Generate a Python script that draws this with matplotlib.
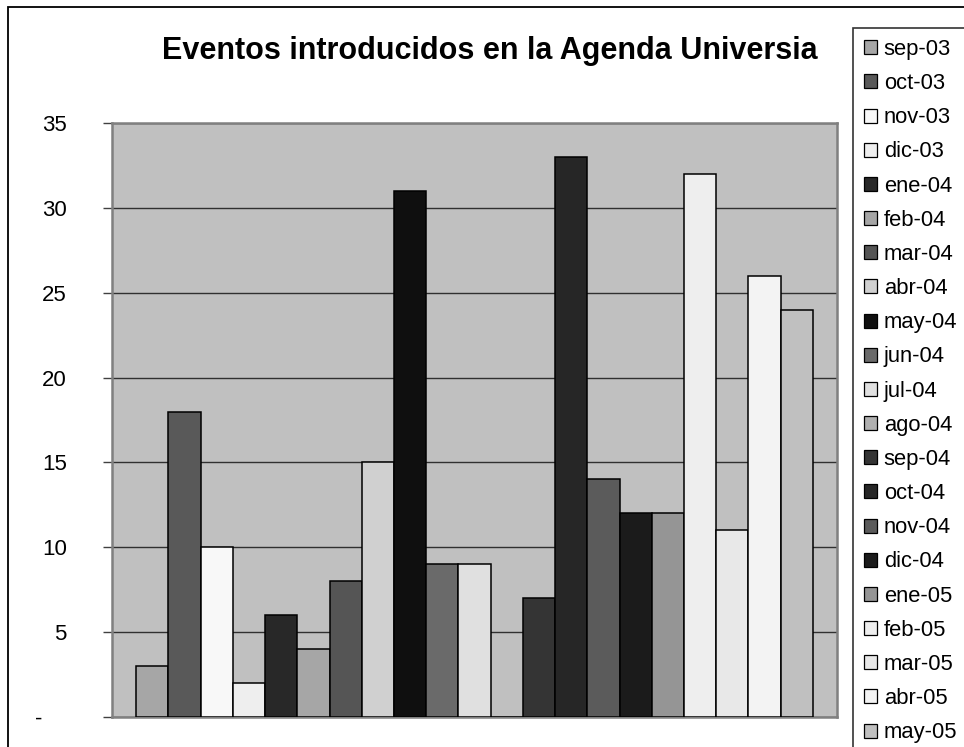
import matplotlib
matplotlib.use("Agg")
import matplotlib.pyplot as plt
from matplotlib.patches import Rectangle, Patch
from matplotlib.ticker import FuncFormatter

plt.rcParams['font.family'] = ['Liberation Sans', 'DejaVu Sans']

# months (one series each in the original chart)
months = ['sep-03', 'oct-03', 'nov-03', 'dic-03', 'ene-04', 'feb-04', 'mar-04',
          'abr-04', 'may-04', 'jun-04', 'jul-04', 'ago-04', 'sep-04', 'oct-04',
          'nov-04', 'dic-04', 'ene-05', 'feb-05', 'mar-05', 'abr-05', 'may-05']
eventos = [3, 18, 10, 2, 6, 4, 8, 15, 31, 9, 9, 0, 7, 33, 14, 12, 12, 32, 11, 26, 24]
grises = ['#a6a6a6', '#595959', '#f8f8f8', '#eeeeee', '#282828', '#a6a6a6', '#555555',
          '#d0d0d0', '#0f0f0f', '#6a6a6a', '#e0e0e0', '#b0b0b0', '#343434', '#262626',
          '#5b5b5b', '#1b1b1b', '#959595', '#eeeeee', '#e8e8e8', '#f3f3f3', '#c0c0c0']
y_ticks = [0, 5, 10, 15, 20, 25, 30, 35]

W, H = 964, 747
fig = plt.figure(figsize=(W / 100, H / 100), dpi=100)
fig.patch.set_facecolor('white')

ax = fig.add_axes([112 / W, (H - 717) / H, (837 - 112) / W, (717 - 123) / H])
ax.set_facecolor('#c0c0c0')

x = list(range(len(eventos)))
ax.bar(x, eventos, width=1.0, color=grises, edgecolor='black', linewidth=1.1, zorder=3)

ax.set_xlim(-0.5 - 0.75, len(eventos) - 0.5 + 0.75)
ax.set_ylim(0, 35)
ax.set_yticks(y_ticks)
ax.yaxis.set_major_formatter(FuncFormatter(lambda v, p: '-    ' if v == 0 else f'{int(v)}'))
ax.set_xticks([])
ax.grid(axis='y', color='#303030', linewidth=1.0, zorder=1)
ax.tick_params(axis='y', direction='out', length=6.5, width=1, color='#404040',
               labelsize=16, pad=26)
for s in ax.spines.values():
    s.set_color('#808080')
    s.set_linewidth(1.8)

fig.text(490 / W, 1 - 58.5 / H, 'Eventos introducidos en la Agenda Universia',
         ha='center', va='baseline', fontsize=22, fontweight='bold')

handles = [Patch(facecolor=c, edgecolor='black', linewidth=0.9) for c in grises]
leg = fig.legend(handles, months, loc='upper left', bbox_to_anchor=(853 / W, 1 - 28 / H),
                 borderaxespad=0, frameon=True, fancybox=False, fontsize=15.8,
                 handlelength=0.6, handleheight=0.6, handletextpad=0.3,
                 labelspacing=0.6, borderpad=0.5)
leg.get_frame().set_edgecolor('black')
leg.get_frame().set_linewidth(1.2)

# outer chart border (only top and left edges are inside the picture)
fig.add_artist(Rectangle((8 / W, -0.5), 1.0, 1.5 - 7 / H, transform=fig.transFigure,
                         fill=False, edgecolor='black', linewidth=1.3))

fig.savefig('out.png', dpi=100)
